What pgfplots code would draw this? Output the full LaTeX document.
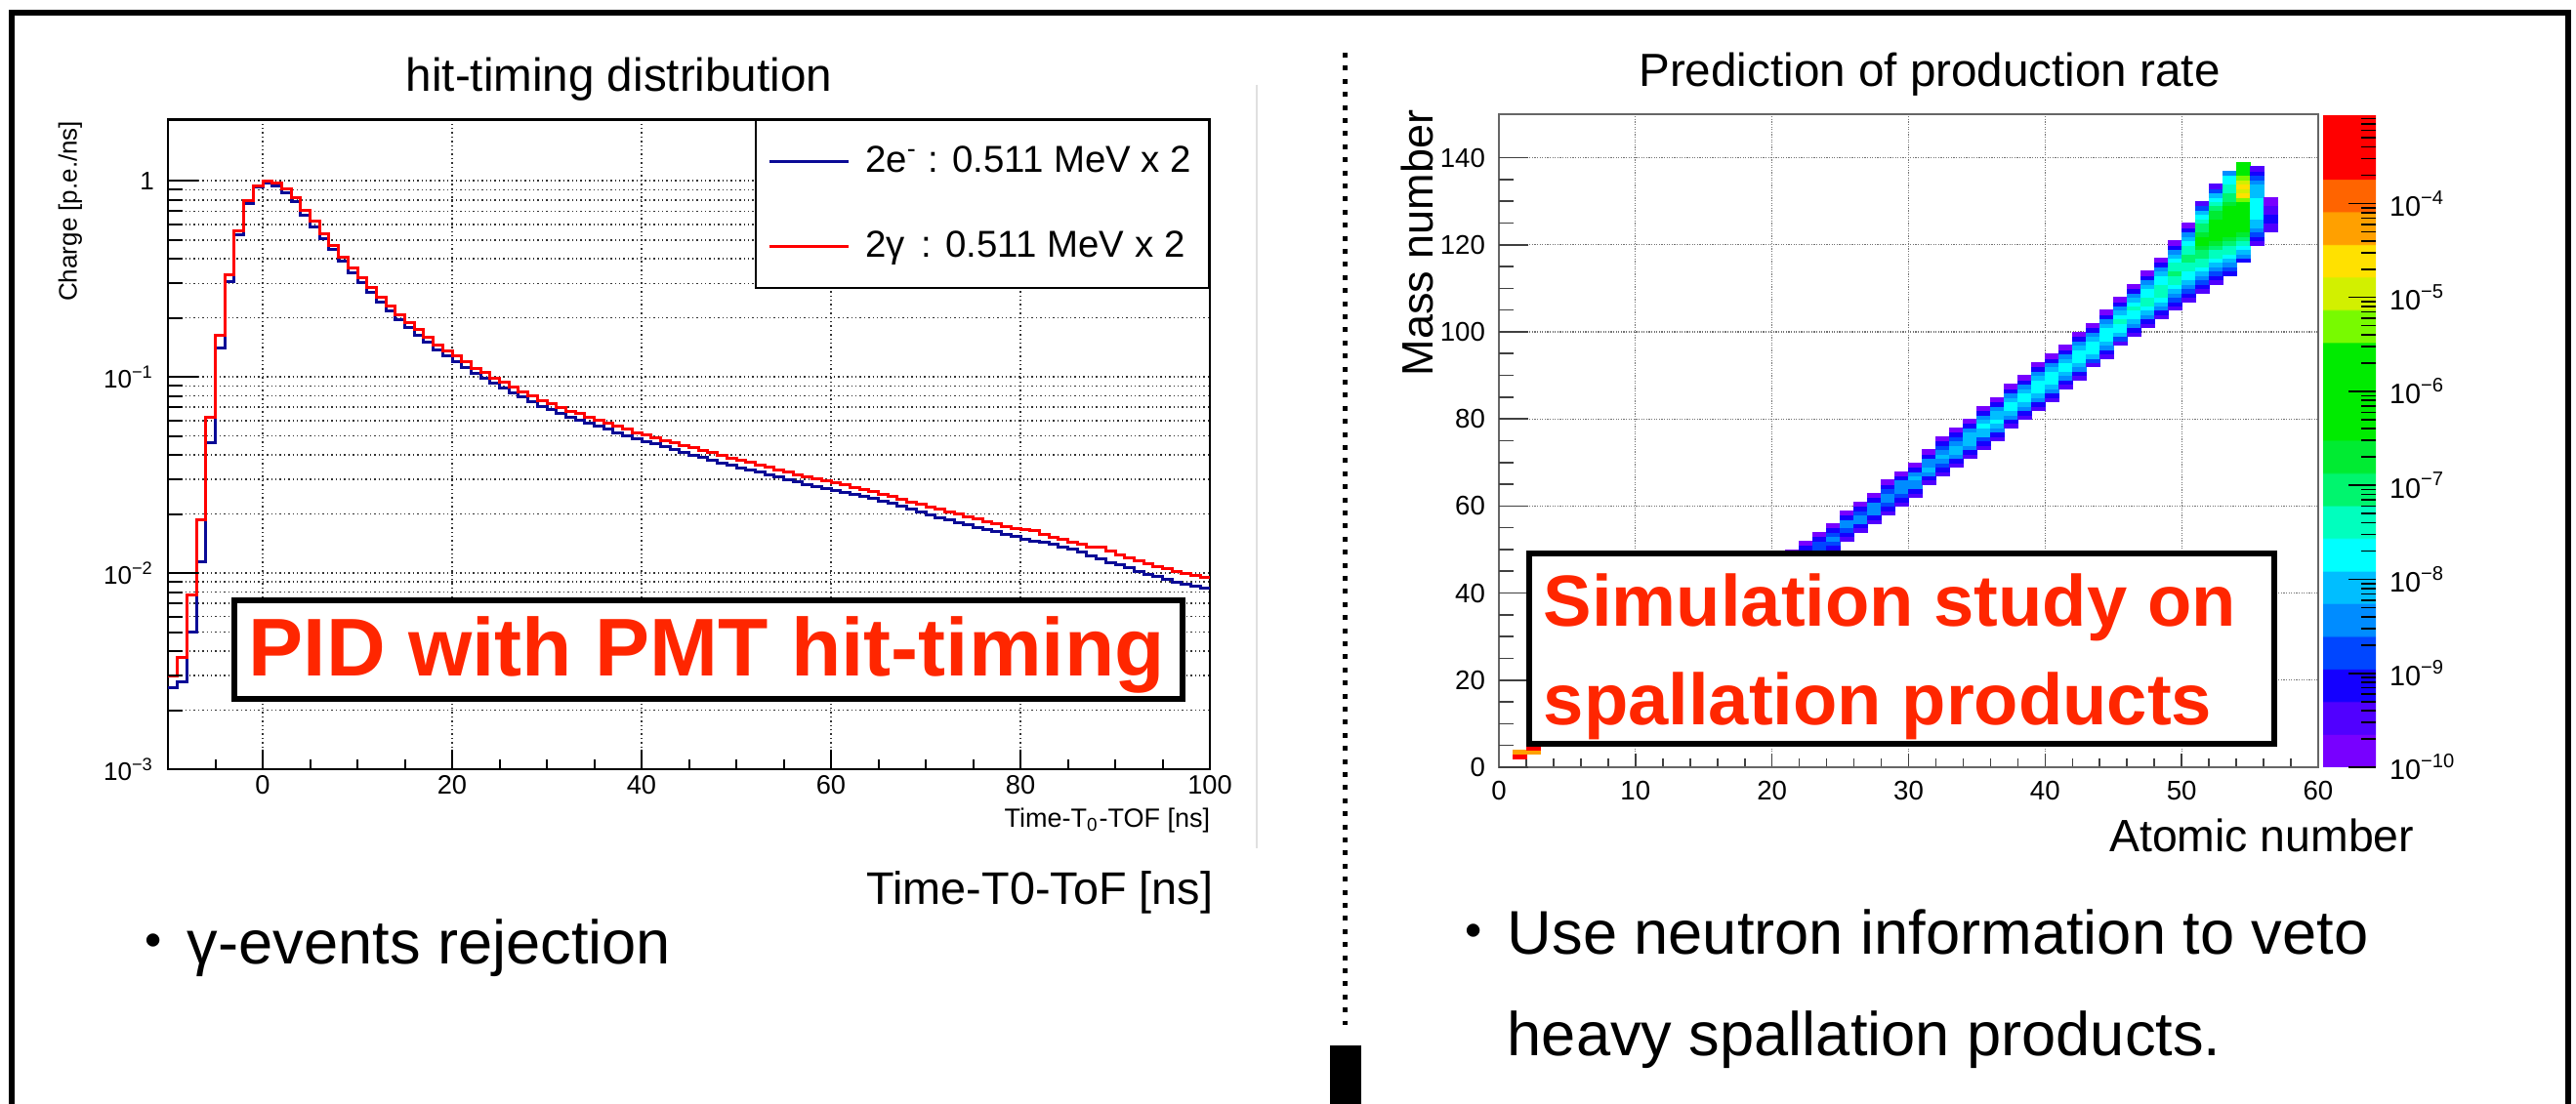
\documentclass[border=0pt]{standalone}
\usepackage{pgfplots}
\pgfplotsset{compat=1.18}
\usepackage{pgfplotstable}
\usepackage{fontspec}
\setmainfont{Liberation Sans}
\newfontfamily\cjk{Noto Sans CJK JP}
\definecolor{slidered}{RGB}{255,38,0}
\definecolor{rootblue}{RGB}{10,10,150}
\pgfplotsset{/pgf/number format/assume math mode=true}

\pgfplotstableread{
t r b
-10 0.0030 0.0026
-9 0.0037 0.0028
-8 0.0077 0.0050
-7 0.0186 0.0114
-6 0.062 0.046
-5 0.164 0.140
-4 0.331 0.308
-3 0.558 0.533
-2 0.79 0.77
-1 0.94 0.93
0 1.00 0.98
1 0.98 0.94
2 0.91 0.87
3 0.82 0.78
4 0.71 0.67
5 0.62 0.585
6 0.54 0.51
7 0.47 0.445
8 0.41 0.39
9 0.36 0.34
10 0.32 0.302
11 0.285 0.269
12 0.254 0.240
13 0.229 0.216
14 0.207 0.196
15 0.189 0.179
16 0.174 0.164
17 0.159 0.150
18 0.146 0.138
19 0.136 0.128
20 0.128 0.120
21 0.119 0.112
22 0.111 0.104
23 0.105 0.098
24 0.099 0.093
25 0.094 0.088
26 0.089 0.083
27 0.084 0.079
28 0.080 0.075
29 0.076 0.071
30 0.073 0.068
31 0.070 0.065
32 0.067 0.062
33 0.065 0.060
34 0.062 0.058
35 0.060 0.056
36 0.058 0.054
37 0.056 0.052
38 0.054 0.050
39 0.052 0.0485
40 0.0505 0.047
41 0.049 0.0455
42 0.0475 0.044
43 0.046 0.0425
44 0.0447 0.0412
45 0.0435 0.0400
46 0.0422 0.0388
47 0.0410 0.0376
48 0.0398 0.0365
49 0.0387 0.0355
50 0.0376 0.0345
51 0.0366 0.0335
52 0.0356 0.0326
53 0.0346 0.0317
54 0.0336 0.0308
55 0.0327 0.0300
56 0.0318 0.0292
57 0.0310 0.0284
58 0.0302 0.0276
59 0.0295 0.0269
60 0.0288 0.0263
61 0.0281 0.0257
62 0.0274 0.0251
63 0.0267 0.0245
64 0.0260 0.0240
65 0.0252 0.0233
66 0.0245 0.0226
67 0.0238 0.0219
68 0.0231 0.0212
69 0.0224 0.0205
70 0.0218 0.0198
71 0.0212 0.0192
72 0.0206 0.0186
73 0.0200 0.0181
74 0.0194 0.0176
75 0.0189 0.0171
76 0.0183 0.0166
77 0.0178 0.0162
78 0.0173 0.0158
79 0.0168 0.0154
80 0.0166 0.0149
81 0.0164 0.0146
82 0.0158 0.0143
83 0.0152 0.0140
84 0.0148 0.0136
85 0.0144 0.0132
86 0.0140 0.0128
87 0.0136 0.0123
88 0.0135 0.0118
89 0.0130 0.0113
90 0.0124 0.0110
91 0.0119 0.0106
92 0.0115 0.0102
93 0.0112 0.0098
94 0.0108 0.0096
95 0.0105 0.0093
96 0.0102 0.0090
97 0.0099 0.0088
98 0.0097 0.0086
99 0.0095 0.0084
100 0.0095 0.0084
}\hittiming

\pgfplotstableread[row sep=\\]{
Z A m\\
1 2 -3.5\\1 3 -4.3\\2 3 -4.3\\2 4 -3.5\\2 6 -6.3\\2 8 -7.7\\
21 44 -9.5\\21 45 -9.1\\21 46 -8.8\\21 47 -8.8\\21 48 -9.1\\21 49 -9.8\\
22 45 -9.5\\22 46 -9.1\\22 47 -8.8\\22 48 -8.8\\22 49 -8.8\\22 50 -9.1\\22 51 -9.8\\
23 47 -9.5\\23 48 -9.1\\23 49 -8.8\\23 50 -8.8\\23 51 -8.8\\23 52 -9.1\\23 53 -9.8\\
24 49 -9.5\\24 50 -9.1\\24 51 -8.8\\24 52 -8.4\\24 53 -8.8\\24 54 -9.1\\24 55 -9.8\\
25 52 -9.5\\25 53 -9.1\\25 54 -8.8\\25 55 -8.4\\25 56 -8.4\\25 57 -9.1\\25 58 -9.8\\
26 54 -9.5\\26 55 -9.1\\26 56 -8.4\\26 57 -8.4\\26 58 -8.8\\26 59 -9.1\\26 60 -9.8\\
27 56 -9.5\\27 57 -9.1\\27 58 -8.4\\27 59 -8.4\\27 60 -8.4\\27 61 -9.1\\27 62 -9.8\\
28 58 -9.5\\28 59 -9.1\\28 60 -8.8\\28 61 -8.4\\28 62 -8.4\\28 63 -8.8\\28 64 -9.1\\28 65 -9.8\\
29 60 -9.5\\29 61 -9.1\\29 62 -8.8\\29 63 -8.4\\29 64 -8.4\\29 65 -8.4\\29 66 -9.1\\29 67 -9.8\\
30 62 -9.5\\30 63 -9.1\\30 64 -8.4\\30 65 -8.4\\30 66 -8.1\\30 67 -8.4\\30 68 -9.1\\30 69 -9.8\\
31 65 -9.5\\31 66 -9.1\\31 67 -8.4\\31 68 -8.1\\31 69 -8.4\\31 70 -8.4\\31 71 -9.1\\31 72 -9.8\\
32 67 -9.5\\32 68 -9.1\\32 69 -8.8\\32 70 -8.4\\32 71 -8.1\\32 72 -8.4\\32 73 -8.8\\32 74 -9.1\\32 75 -9.8\\
33 69 -9.5\\33 70 -9.1\\33 71 -8.4\\33 72 -8.1\\33 73 -8.1\\33 74 -8.4\\33 75 -8.8\\33 76 -9.1\\33 77 -9.8\\
34 71 -9.5\\34 72 -9.1\\34 73 -8.4\\34 74 -8.1\\34 75 -8.1\\34 76 -8.1\\34 77 -8.4\\34 78 -9.1\\34 79 -9.8\\
35 73 -9.5\\35 74 -9.1\\35 75 -8.8\\35 76 -8.1\\35 77 -8.1\\35 78 -7.7\\35 79 -8.1\\35 80 -8.4\\35 81 -9.1\\35 82 -9.8\\
36 75 -9.5\\36 76 -9.1\\36 77 -8.4\\36 78 -8.1\\36 79 -7.7\\36 80 -8.1\\36 81 -8.1\\36 82 -8.4\\36 83 -9.1\\36 84 -9.8\\
37 78 -9.5\\37 79 -9.1\\37 80 -8.4\\37 81 -8.1\\37 82 -7.7\\37 83 -7.7\\37 84 -8.1\\37 85 -8.4\\37 86 -9.1\\37 87 -9.8\\
38 80 -9.5\\38 81 -9.1\\38 82 -8.4\\38 83 -8.1\\38 84 -7.7\\38 85 -7.7\\38 86 -8.1\\38 87 -8.4\\38 88 -9.1\\38 89 -9.8\\
39 82 -9.5\\39 83 -9.1\\39 84 -8.4\\39 85 -8.1\\39 86 -7.7\\39 87 -7.7\\39 88 -7.7\\39 89 -8.1\\39 90 -8.4\\39 91 -9.1\\39 92 -9.8\\
40 84 -9.5\\40 85 -9.1\\40 86 -8.4\\40 87 -8.1\\40 88 -7.7\\40 89 -7.7\\40 90 -7.7\\40 91 -8.1\\40 92 -8.4\\40 93 -9.1\\40 94 -9.8\\
41 87 -9.5\\41 88 -9.1\\41 89 -8.4\\41 90 -8.1\\41 91 -7.7\\41 92 -7.7\\41 93 -8.1\\41 94 -8.4\\41 95 -9.1\\41 96 -9.8\\
42 89 -9.5\\42 90 -9.1\\42 91 -8.4\\42 92 -8.1\\42 93 -7.7\\42 94 -7.7\\42 95 -7.7\\42 96 -8.1\\42 97 -8.4\\42 98 -9.1\\42 99 -9.8\\
43 92 -9.5\\43 93 -8.8\\43 94 -8.1\\43 95 -7.7\\43 96 -7.7\\43 97 -7.7\\43 98 -8.1\\43 99 -8.4\\43 100 -9.1\\43 101 -9.8\\
44 94 -9.5\\44 95 -9.1\\44 96 -8.4\\44 97 -8.1\\44 98 -7.7\\44 99 -7.7\\44 100 -7.7\\44 101 -8.1\\44 102 -8.4\\44 103 -9.1\\44 104 -9.8\\
45 97 -9.5\\45 98 -8.8\\45 99 -8.1\\45 100 -7.7\\45 101 -7.7\\45 102 -7.4\\45 103 -7.7\\45 104 -8.1\\45 105 -8.4\\45 106 -9.1\\45 107 -9.8\\
46 99 -9.5\\46 100 -9.1\\46 101 -8.4\\46 102 -8.1\\46 103 -7.7\\46 104 -7.7\\46 105 -7.4\\46 106 -7.7\\46 107 -8.1\\46 108 -8.4\\46 109 -9.1\\46 110 -9.8\\
47 101 -9.5\\47 102 -9.1\\47 103 -8.4\\47 104 -8.1\\47 105 -7.7\\47 106 -7.4\\47 107 -7.4\\47 108 -7.7\\47 109 -7.7\\47 110 -8.1\\47 111 -8.4\\47 112 -9.1\\47 113 -9.8\\
48 103 -9.5\\48 104 -9.1\\48 105 -8.4\\48 106 -8.1\\48 107 -7.7\\48 108 -7.4\\48 109 -7.4\\48 110 -7.4\\48 111 -7.7\\48 112 -7.7\\48 113 -8.1\\48 114 -8.4\\48 115 -9.1\\48 116 -9.8\\
49 105 -9.5\\49 106 -9.1\\49 107 -8.8\\49 108 -8.4\\49 109 -8.1\\49 110 -7.7\\49 111 -7.4\\49 112 -7.4\\49 113 -7.0\\49 114 -7.4\\49 115 -7.4\\49 116 -7.7\\49 117 -8.1\\49 118 -8.4\\49 119 -9.1\\49 120 -9.8\\
50 107 -9.5\\50 108 -9.1\\50 109 -8.8\\50 110 -8.4\\50 111 -8.1\\50 112 -7.7\\50 113 -7.7\\50 114 -7.4\\50 115 -7.4\\50 116 -7.0\\50 117 -7.0\\50 118 -7.4\\50 119 -7.4\\50 120 -7.7\\50 121 -8.1\\50 122 -8.4\\50 123 -9.1\\50 124 -9.8\\
51 109 -9.5\\51 110 -9.1\\51 111 -8.8\\51 112 -8.4\\51 113 -8.1\\51 114 -7.7\\51 115 -7.4\\51 116 -7.4\\51 117 -7.0\\51 118 -7.0\\51 119 -6.7\\51 120 -6.3\\51 121 -6.3\\51 122 -6.7\\51 123 -7.0\\51 124 -7.0\\51 125 -7.4\\51 126 -7.7\\51 127 -8.1\\51 128 -8.8\\51 129 -9.5\\
52 111 -9.5\\52 112 -9.1\\52 113 -8.8\\52 114 -8.4\\52 115 -8.1\\52 116 -7.7\\52 117 -7.4\\52 118 -7.4\\52 119 -7.0\\52 120 -6.7\\52 121 -6.3\\52 122 -6.3\\52 123 -6.3\\52 124 -6.3\\52 125 -6.3\\52 126 -6.7\\52 127 -6.7\\52 128 -7.0\\52 129 -7.4\\52 130 -7.7\\52 131 -8.1\\52 132 -8.8\\52 133 -9.5\\
53 113 -9.1\\53 114 -8.8\\53 115 -8.4\\53 116 -8.1\\53 117 -7.7\\53 118 -7.4\\53 119 -7.4\\53 120 -7.0\\53 121 -6.7\\53 122 -6.3\\53 123 -6.3\\53 124 -6.3\\53 125 -6.0\\53 126 -6.3\\53 127 -6.3\\53 128 -6.3\\53 129 -6.7\\53 130 -7.0\\53 131 -7.0\\53 132 -7.4\\53 133 -7.4\\53 134 -7.7\\53 135 -7.7\\53 136 -8.4\\
54 116 -9.1\\54 117 -8.4\\54 118 -8.1\\54 119 -7.7\\54 120 -7.4\\54 121 -7.0\\54 122 -6.7\\54 123 -6.3\\54 124 -6.3\\54 125 -6.3\\54 126 -6.3\\54 127 -6.3\\54 128 -6.3\\54 129 -6.0\\54 130 -5.3\\54 131 -4.6\\54 132 -5.0\\54 133 -4.6\\54 134 -5.0\\54 135 -5.3\\54 136 -6.0\\54 137 -6.3\\54 138 -6.3\\
55 120 -9.5\\55 121 -9.1\\55 122 -8.8\\55 123 -8.4\\55 124 -8.1\\55 125 -8.1\\55 126 -7.7\\55 127 -7.7\\55 128 -7.7\\55 129 -7.7\\55 130 -7.7\\55 131 -8.1\\55 132 -8.1\\55 133 -8.1\\55 134 -8.4\\55 135 -8.8\\55 136 -9.1\\55 137 -9.5\\
56 123 -9.5\\56 124 -9.5\\56 125 -9.1\\56 126 -9.1\\56 127 -9.5\\56 128 -9.5\\56 129 -9.8\\56 130 -9.8\\
}\spall

\def\cbminor{}
\foreach \d in {-10,...,-4}{\foreach \k in {2,...,9}{\pgfmathparse{\d+log10(\k)}\xdef\cbminor{\cbminor\pgfmathresult,}}}

\begin{document}
\begin{tikzpicture}
\useasboundingbox (0,0) rectangle (659.5pt,-282.75pt);
% slide frame
\draw[line width=1.5pt] (2.97pt,-290pt) -- (2.97pt,-3.33pt) -- (657.5pt,-3.33pt) -- (657.5pt,-290pt);
\draw[line width=0.5pt, black!12] (321.75pt,-21.75pt) -- (321.75pt,-217.25pt);
\draw[line width=1.25pt, dash pattern=on 1.25pt off 2.1pt] (344.4pt,-13.5pt) -- (344.4pt,-262.5pt);
\fill (340.5pt,-267.75pt) rectangle (348.5pt,-290pt);

% ---------- left histogram ----------
\begin{axis}[
  at={(43pt,-197pt)}, anchor=south west, scale only axis,
  width=266.75pt, height=166.35pt,
  xmin=-10, xmax=100, ymode=log, ymin=1e-3, ymax=2.05,
  xtick={0,20,40,60,80,100},
  minor xtick={-5,5,10,15,25,30,35,45,50,55,65,70,75,85,90,95},
  ytick={0.001,0.01,0.1,1},
  yticklabels={10\textsuperscript{−3},10\textsuperscript{−2},10\textsuperscript{−1},1},
  xtick pos=bottom, ytick pos=left, tick align=inside,
  major tick length=4.9pt, minor tick length=2.5pt,
  tick style={black, line width=0.5pt},
  axis line style={black, line width=0.6pt},
  xmajorgrids, ymajorgrids, yminorgrids,
  grid style={black!80, line width=0.4pt, dash pattern=on 0.35pt off 0.75pt},
  minor grid style={black!80, line width=0.4pt, dash pattern=on 0.35pt off 0.75pt},
  xticklabel style={font=\fontsize{6.8}{8}\selectfont, inner ysep=1.5pt},
  yticklabel style={font=\fontsize{6.5}{8}\selectfont},
  legend style={at={(1,1)}, anchor=north east, draw=black, line width=0.45pt, fill=white,
    font=\fontsize{9.6}{11}\selectfont, inner xsep=3pt, inner ysep=5pt, row sep=10.5pt,
    column sep=2.5pt, nodes={inner sep=1.5pt}},
  legend cell align=left,
  legend image code/.code={\draw[#1] (0pt,0pt) -- (20.25pt,0pt);},
]
\addplot[const plot mark left, rootblue, line width=0.75pt] table[x=t, y=b] {\hittiming};
\addlegendentry{2e\textsuperscript{-} : 0.511 MeV x 2}
\addplot[const plot mark left, red, line width=0.75pt] table[x=t, y=r] {\hittiming};
\addlegendentry{2γ\,\  : 0.511 MeV x 2}
\end{axis}
% long y ticks of the left plot
\begin{axis}[
  at={(43pt,-197pt)}, anchor=south west, scale only axis,
  width=266.75pt, height=166.35pt,
  xmin=-10, xmax=100, ymode=log, ymin=1e-3, ymax=2.05,
  xtick=\empty, ytick={0.001,0.01,0.1,1}, yticklabels={},
  yticklabel style={opacity=0},
  ytick pos=left, tick align=inside,
  major tick length=7.7pt, minor tick length=3.8pt,
  tick style={black, line width=0.5pt},
  axis line style={draw=none},
]
\end{axis}

% ---------- right 2D histogram ----------
\begin{axis}[
  at={(383.75pt,-196.5pt)}, anchor=south west, scale only axis,
  width=209.75pt, height=167.25pt,
  xmin=0, xmax=60, ymin=0, ymax=150,
  xtick={0,10,...,60}, ytick={0,20,...,140},
  minor x tick num=4, minor y tick num=3,
  xtick pos=bottom, ytick pos=left, tick align=inside,
  major tick length=3.5pt, minor tick length=2.2pt,
  tick style={black!75, line width=0.4pt},
  axis line style={black!60, line width=0.5pt},
  grid=major,
  grid style={black!55, line width=0.3pt, dash pattern=on 0.3pt off 0.35pt},
  ticklabel style={font=\fontsize{6.9}{8}\selectfont},
  colormap={rootpal}{
    rgb255(0cm)=(120,0,255) rgb255(1cm)=(120,0,255)
    rgb255(1.02cm)=(80,0,255) rgb255(2cm)=(80,0,255)
    rgb255(2.02cm)=(20,0,255) rgb255(3cm)=(20,0,255)
    rgb255(3.02cm)=(0,70,255) rgb255(4cm)=(0,70,255)
    rgb255(4.02cm)=(0,140,255) rgb255(5cm)=(0,140,255)
    rgb255(5.02cm)=(0,190,255) rgb255(6cm)=(0,190,255)
    rgb255(6.02cm)=(0,255,255) rgb255(7cm)=(0,255,255)
    rgb255(7.02cm)=(0,255,190) rgb255(8cm)=(0,255,190)
    rgb255(8.02cm)=(0,245,110) rgb255(9cm)=(0,245,110)
    rgb255(9.02cm)=(0,235,50) rgb255(10cm)=(0,235,50)
    rgb255(10.02cm)=(0,235,0) rgb255(13cm)=(0,235,0)
    rgb255(13.02cm)=(120,250,0) rgb255(14cm)=(120,250,0)
    rgb255(14.02cm)=(210,240,0) rgb255(15cm)=(210,240,0)
    rgb255(15.02cm)=(255,225,0) rgb255(16cm)=(255,225,0)
    rgb255(16.02cm)=(255,160,0) rgb255(17cm)=(255,160,0)
    rgb255(17.02cm)=(255,100,0) rgb255(18cm)=(255,100,0)
    rgb255(18.02cm)=(255,0,0) rgb255(20cm)=(255,0,0)
  },
  point meta min=-10, point meta max=-3.05,
  colorbar,
  colorbar shift/.style={xshift=1.25pt},
  colorbar style={
    at={(parent axis.north east)}, anchor=north west,
    width=13.5pt,
    ytick={-10,-9,-8,-7,-6,-5,-4},
    yticklabels={10\textsuperscript{−10},10\textsuperscript{−9},10\textsuperscript{−8},10\textsuperscript{−7},10\textsuperscript{−6},10\textsuperscript{−5},10\textsuperscript{−4}},
    minor ytick/.expanded={\cbminor -3.30103},
    ytick pos=right, yticklabel pos=right, tick align=inside,
    major tick length=7pt, minor tick length=3.75pt,
    tick style={black, line width=0.4pt},
    axis line style={draw=none},
    yticklabel style={font=\fontsize{7.2}{8}\selectfont},
  },
]
\addplot[scatter, only marks, mark=square*, mark size=1.748pt,
  scatter/use mapped color={draw=mapped color, fill=mapped color},
  mark options={line width=0.1pt, yscale=0.319}, point meta=explicit]
  table[x expr=\thisrow{Z}+0.5, y expr=\thisrow{A}+0.5, meta=m] {\spall};
\end{axis}
% long y ticks of the right plot
\begin{axis}[
  at={(383.75pt,-196.5pt)}, anchor=south west, scale only axis,
  width=209.75pt, height=167.25pt,
  xmin=0, xmax=60, ymin=0, ymax=150,
  xtick=\empty, ytick={0,20,...,140}, minor y tick num=3, yticklabels={},
  yticklabel style={opacity=0},
  ytick pos=left, tick align=inside,
  major tick length=7.5pt, minor tick length=3.75pt,
  tick style={black!75, line width=0.4pt},
  axis line style={draw=none},
]
\end{axis}

% ---------- texts ----------
\node[font=\fontsize{11.9}{14}\selectfont] at (158.5pt,-20.25pt) {hit-timing distribution};
\node[font=\fontsize{11.9}{14}\selectfont] at (494pt,-19pt) {Prediction of production rate};
\node[rotate=90, anchor=east, inner sep=0pt, font=\fontsize{6.5}{8}\selectfont] at (18pt,-30.75pt) {Charge [p.e./ns]};
\node[anchor=north east, inner sep=0pt, font=\fontsize{6.75}{8}\selectfont] at (310pt,-206.8pt) {Time-T\textsubscript{0}-TOF [ns]};
\node[anchor=base east, inner sep=0pt, font=\fontsize{11.7}{14}\selectfont] at (310.75pt,-231.75pt) {Time-T0-ToF [ns]};
\node[rotate=90, anchor=east, inner sep=0pt, font=\fontsize{11.25}{14}\selectfont] at (362.75pt,-28pt) {Mass number};
\node[anchor=base east, inner sep=0pt, font=\fontsize{11.6}{14}\selectfont] at (618.25pt,-218.25pt) {Atomic number};

\node[anchor=base, inner sep=0pt, font=\fontsize{15.8}{18}\selectfont] at (39.25pt,-247pt) {\cjk ・};
\node[anchor=base west, inner sep=0pt, font=\fontsize{15.8}{18}\selectfont] at (47.75pt,-247pt) {γ-events rejection};
\node[anchor=base, inner sep=0pt, font=\fontsize{15.8}{18}\selectfont] at (377.25pt,-244.4pt) {\cjk ・};
\node[anchor=base west, inner sep=0pt, font=\fontsize{15.8}{18}\selectfont] at (385.75pt,-244.4pt) {Use neutron information to veto};
\node[anchor=base west, inner sep=0pt, font=\fontsize{15.8}{18}\selectfont] at (385.75pt,-270.5pt) {heavy spallation products.};

% red boxes
\draw[line width=1.4pt, fill=white] (60pt,-153.75pt) rectangle (302.75pt,-179pt);
\node[anchor=base west, inner sep=0pt, text=slidered, font=\bfseries\fontsize{21}{24}\selectfont] at (63.5pt,-173.25pt) {PID with PMT hit-timing};
\draw[line width=1.4pt, fill=white] (391.5pt,-141.75pt) rectangle (582.25pt,-190.5pt);
\node[anchor=base west, inner sep=0pt, text=slidered, font=\bfseries\fontsize{18.55}{22}\selectfont] at (395pt,-160.5pt) {Simulation study on};
\node[anchor=base west, inner sep=0pt, text=slidered, font=\bfseries\fontsize{18.55}{22}\selectfont] at (395pt,-185.75pt) {spallation products};
\end{tikzpicture}
\end{document}
